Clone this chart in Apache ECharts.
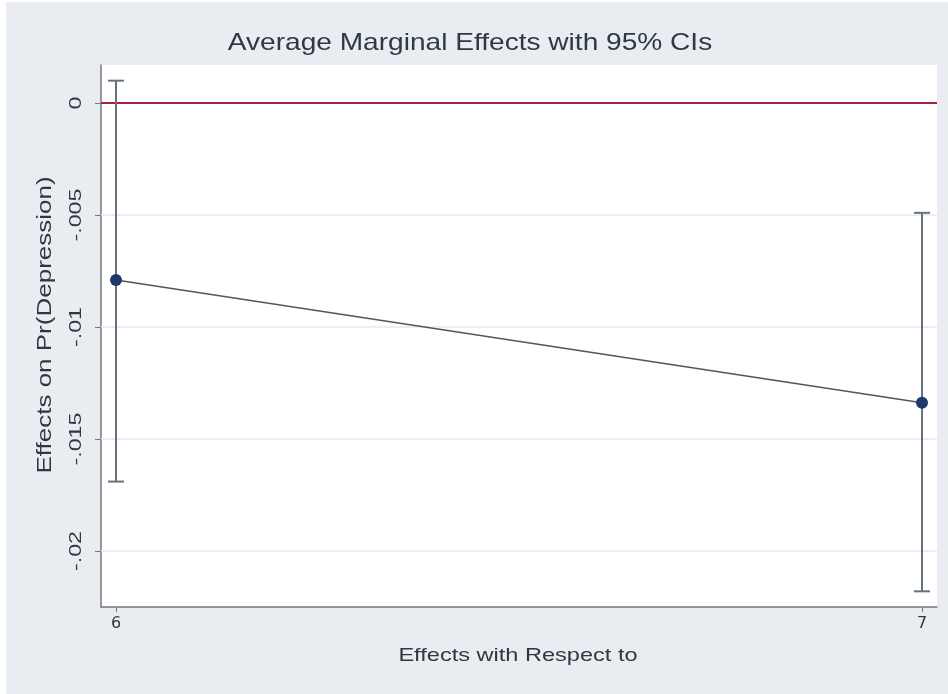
<!DOCTYPE html>
<html>
<head>
<meta charset="utf-8">
<title>Average Marginal Effects with 95% CIs</title>
<script src="https://cdn.jsdelivr.net/npm/echarts@6/dist/echarts.min.js"></script>
<style>
  html, body { margin: 0; padding: 0; background: #ffffff; }
  #chart { width: 948px; height: 694px; }
</style>
</head>
<body>
<div id="chart"></div>
<script>
// Values at each level of the "with respect to" variable
const xLevels = [6, 7];
const margins = [-0.0079, -0.01338];
const ciLower = [-0.0169, -0.0218];
const ciUpper = [0.001, -0.0049];

// Axis ticks and their printed labels
const yTicks = [0, -0.005, -0.01, -0.015, -0.02];
const yTickLabels = ['0', '-.005', '-.01', '-.015', '-.02'];
const xTicks = [6, 7];
const referenceLine = 0;

const chartTitle = 'Average Marginal Effects with 95% CIs';
const xTitle = 'Effects with Respect to';
const yTitle = 'Effects on Pr(Depression)';

const chart = echarts.init(document.getElementById('chart'), null, { renderer: 'canvas' });

const font = 'Liberation Sans, Arial, Helvetica, sans-serif';
const textColor = '#2f3840';
const axisColor = '#74787d';

const pointData = xLevels.map((x, i) => [x, margins[i]]);
const ciData = xLevels.map((x, i) => [x, ciLower[i], ciUpper[i]]);
const gridData = yTicks.map(v => [v]);

// Stretched text drawn as graphic elements (title, axis titles, y tick labels)
function stretchedText(id, text, x, y, size, scale, rotation, color) {
  return {
    id: id,
    type: 'text',
    silent: true,
    z: 10,
    x: x,
    y: y,
    rotation: rotation || 0,
    scaleX: scale,
    style: {
      text: text,
      fontFamily: font,
      fontSize: size,
      fill: color || textColor,
      align: 'center',
      verticalAlign: 'middle'
    }
  };
}

const option = {
  animation: false,
  backgroundColor: '#ffffff',
  graphic: [
    {
      id: 'panel',
      type: 'rect',
      z: -10,
      silent: true,
      shape: { x: 6, y: 2, width: 942, height: 692 },
      style: { fill: '#e9edf1' }
    },
    stretchedText('title', chartTitle, 470, 43, 24, 1.17, 0, '#2e3944'),
    stretchedText('xname', xTitle, 518, 656, 19, 1.24, 0),
    stretchedText('yname', yTitle, 45, 325, 20, 1.3, Math.PI / 2)
  ],
  grid: {
    left: 101,
    right: 11,
    top: 65,
    bottom: 87,
    show: true,
    backgroundColor: '#ffffff',
    borderWidth: 0
  },
  xAxis: {
    type: 'value',
    min: 5.9814,
    max: 7.0186,
    axisLine: { show: true, onZero: false, lineStyle: { color: axisColor, width: 1.5 } },
    axisTick: { show: true, length: 5, customValues: xTicks, lineStyle: { color: axisColor, width: 1 } },
    axisLabel: { customValues: xTicks, margin: 9, fontFamily: 'DejaVu Sans, sans-serif', fontSize: 16, color: textColor },
    splitLine: { show: false }
  },
  yAxis: {
    type: 'value',
    min: -0.0225,
    max: 0.0017,
    axisLine: { show: true, onZero: false, lineStyle: { color: axisColor, width: 1.5 } },
    axisTick: { show: true, length: 6, customValues: yTicks, lineStyle: { color: axisColor, width: 1 } },
    axisLabel: { show: false },
    splitLine: { show: false }
  },
  series: [
    {
      // horizontal grid lines at each y tick, with the zero reference line in red
      type: 'custom',
      data: gridData,
      silent: true,
      z: 1,
      encode: { y: 0 },
      renderItem: function (params, api) {
        const v = api.value(0);
        const cs = params.coordSys;
        const y = api.coord([5.9814, v])[1];
        const isRef = v === referenceLine;
        return {
          type: 'line',
          shape: { x1: cs.x, y1: y, x2: cs.x + cs.width, y2: y },
          style: isRef
            ? { stroke: '#a3233f', lineWidth: 2 }
            : { stroke: '#e6e9ed', lineWidth: 1.5 }
        };
      }
    },
    {
      // 95% confidence intervals
      type: 'custom',
      data: ciData,
      z: 3,
      renderItem: function (params, api) {
        const x = api.value(0);
        const lo = api.coord([x, api.value(1)]);
        const hi = api.coord([x, api.value(2)]);
        const cap = 8;
        const style = { stroke: '#66737f', lineWidth: 2 };
        return {
          type: 'group',
          children: [
            { type: 'line', shape: { x1: lo[0], y1: lo[1], x2: hi[0], y2: hi[1] }, style: style },
            { type: 'line', shape: { x1: lo[0] - cap, y1: lo[1], x2: lo[0] + cap, y2: lo[1] }, style: style },
            { type: 'line', shape: { x1: hi[0] - cap, y1: hi[1], x2: hi[0] + cap, y2: hi[1] }, style: style }
          ]
        };
      }
    },
    {
      // point estimates joined by a line
      type: 'line',
      data: pointData,
      z: 4,
      symbol: 'circle',
      symbolSize: 12,
      lineStyle: { color: '#4d5863', width: 1.6 },
      itemStyle: { color: '#1b3a6b', borderWidth: 0 }
    }
  ]
};

chart.setOption(option);

// Y tick labels, placed at the axis positions of their tick values
chart.setOption({
  graphic: yTicks.map((v, i) => stretchedText(
    'ytick' + i,
    yTickLabels[i],
    77,
    chart.convertToPixel({ yAxisIndex: 0 }, v),
    16,
    1.45,
    Math.PI / 2
  ))
});
</script>
</body>
</html>
